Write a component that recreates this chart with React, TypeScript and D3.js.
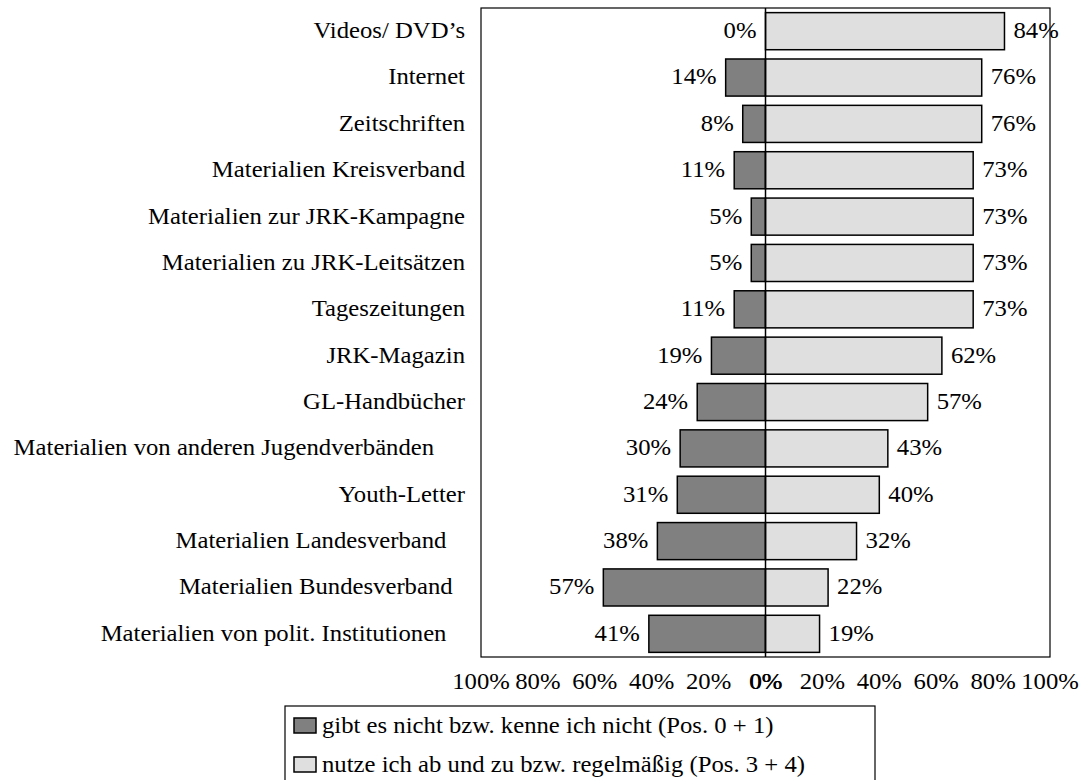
import React from "react";
import * as d3 from "d3";

const categories = [
  "Videos/ DVD\u2019s",
  "Internet",
  "Zeitschriften",
  "Materialien Kreisverband",
  "Materialien zur JRK-Kampagne",
  "Materialien zu JRK-Leitsätzen",
  "Tageszeitungen",
  "JRK-Magazin",
  "GL-Handbücher",
  "Materialien von anderen Jugendverbänden",
  "Youth-Letter",
  "Materialien Landesverband",
  "Materialien Bundesverband",
  "Materialien von polit. Institutionen",
];

// trailing blanks in the original labels
const labelTrail = [0, 0, 0, 0, 0, 0, 0, 0, 0, 5, 0, 3, 2, 3];

const notKnown = [0, 14, 8, 11, 5, 5, 11, 19, 24, 30, 31, 38, 57, 41];
const used = [84, 76, 76, 73, 73, 73, 73, 62, 57, 43, 40, 32, 22, 19];

const tickValues = [-100, -80, -60, -40, -20, 0, 20, 40, 60, 80, 100];

const legendLabels = [
  "gibt es nicht bzw. kenne ich nicht (Pos. 0 + 1)",
  "nutze ich ab und zu bzw. regelmäßig (Pos. 3 + 4)",
];

const DARK = "#808080";
const LIGHT = "#dfdfdf";
const FONT = "'Liberation Serif', 'Times New Roman', serif";
const FS = 23;
const SX = 1.075;

function T(props: {
  x: number;
  y: number;
  anchor?: "start" | "middle" | "end";
  dy?: string;
  children: React.ReactNode;
}) {
  return (
    <g transform={`translate(${props.x},${props.y}) scale(${SX},1)`}>
      <text
        x={0}
        y={0}
        dy={props.dy}
        textAnchor={props.anchor || "start"}
        fontSize={FS}
        fill="#000"
        style={{ whiteSpace: "pre" }}
      >
        {props.children}
      </text>
    </g>
  );
}

export default function App() {
  const W = 1080;
  const H = 780;
  const plot = { left: 481, right: 1050, top: 8, bottom: 657 };

  const x = d3.scaleLinear().domain([-100, 100]).range([plot.left, plot.right]);
  const y = d3
    .scaleBand<string>()
    .domain(categories)
    .range([plot.top, plot.bottom])
    .paddingInner(0.2)
    .paddingOuter(0.1);
  const bw = y.bandwidth();
  const x0 = x(0);

  const legendColors = [DARK, LIGHT];

  return (
    <svg
      width={W}
      height={H}
      style={{ position: "absolute", left: 0, top: 0, background: "#fff" }}
      fontFamily={FONT}
    >
      <rect x={0} y={0} width={W} height={H} fill="#fff" />
      {/* frame */}
      <rect
        x={plot.left}
        y={plot.top}
        width={plot.right - plot.left}
        height={plot.bottom - plot.top}
        fill="#fff"
        stroke="#000"
        strokeWidth={1.2}
      />
      {/* category labels */}
      {categories.map((c, i) => (
        <T key={"c" + i} x={465} y={(y(c) as number) + bw / 2} dy="0.3em" anchor="end">
          {c + "\u00A0".repeat(labelTrail[i])}
        </T>
      ))}
      {/* bars */}
      {categories.map((c, i) => {
        const yy = y(c) as number;
        return (
          <g key={"b" + i}>
            {notKnown[i] > 0 && (
              <rect
                x={x(-notKnown[i])}
                y={yy}
                width={x0 - x(-notKnown[i])}
                height={bw}
                fill={DARK}
                stroke="#000"
                strokeWidth={1.5}
              />
            )}
            <rect
              x={x0}
              y={yy}
              width={x(used[i]) - x0}
              height={bw}
              fill={LIGHT}
              stroke="#000"
              strokeWidth={1.5}
            />
            <T x={x(-notKnown[i]) - 9} y={yy + bw / 2} dy="0.3em" anchor="end">
              {notKnown[i] + "%"}
            </T>
            <T x={x(used[i]) + 9} y={yy + bw / 2} dy="0.3em" anchor="start">
              {used[i] + "%"}
            </T>
          </g>
        );
      })}
      {/* center line */}
      <line
        x1={x0}
        x2={x0}
        y1={plot.top}
        y2={plot.bottom}
        stroke="#000"
        strokeWidth={1.5}
      />
      {/* tick labels */}
      {tickValues.map((t, i) => (
        <T key={"t" + i} x={x(t)} y={689} anchor="middle">
          {Math.abs(t) + "%"}
        </T>
      ))}
      <T x={x(0) + 0.6} y={689} anchor="middle">
        0%
      </T>
      {/* legend */}
      <rect
        x={285}
        y={706}
        width={590}
        height={100}
        fill="#fff"
        stroke="#000"
        strokeWidth={1.2}
      />
      {legendLabels.map((l, i) => (
        <g key={"l" + i}>
          <rect
            x={294}
            y={718 + i * 39}
            width={22}
            height={15}
            fill={legendColors[i]}
            stroke="#000"
            strokeWidth={1.5}
          />
          <T x={322} y={733 + i * 39}>
            {l}
          </T>
        </g>
      ))}
    </svg>
  );
}
